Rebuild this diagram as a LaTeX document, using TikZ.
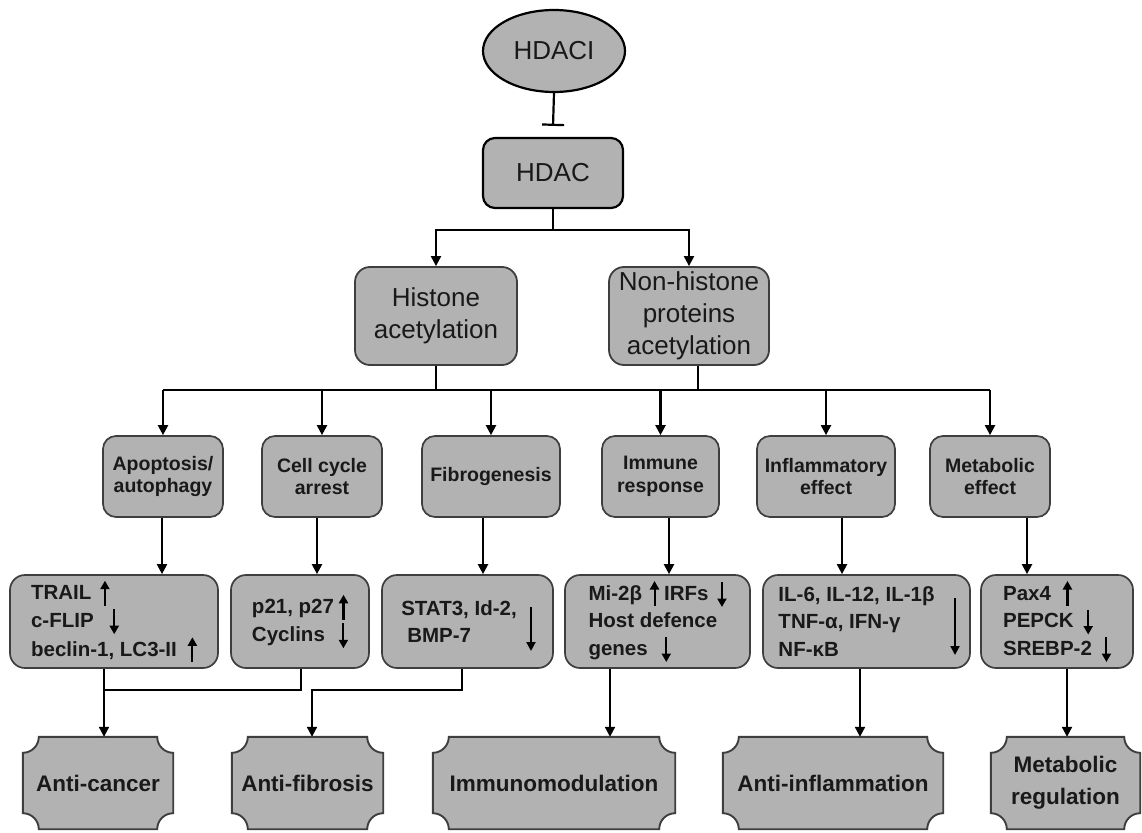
\documentclass[tikz,border=0pt]{standalone}
\usepackage{fontspec}
\setmainfont{Liberation Sans}
\usetikzlibrary{shapes.geometric,arrows.meta,calc,backgrounds}
\definecolor{boxfill}{RGB}{178,178,178}
\definecolor{bdr}{RGB}{62,62,62}
\definecolor{ink}{RGB}{25,25,25}
\newcommand\upa{\tikz[baseline=0pt]{\path (-4.5pt,0pt) (4.5pt,0pt);\draw[black,line width=2.1pt,sharp corners,-{Triangle[length=8.5pt,width=9pt]}] (0pt,-6pt) -- (0pt,19pt);}}
\newcommand\dna{\tikz[baseline=0pt]{\path (-4.5pt,0pt) (4.5pt,0pt);\draw[black,line width=2.1pt,sharp corners,-{Triangle[length=8.5pt,width=9pt]}] (0pt,18pt) -- (0pt,-7pt);}}
\newcommand\scoopbox[1]{%
  \filldraw[scoop] let \p1=(#1.south west), \p2=(#1.north east) in
    (\x1+16pt,\y2) -- (\x2-16pt,\y2) arc[start angle=180,end angle=270,radius=16pt]
    -- (\x2,\y1+16pt) arc[start angle=90,end angle=180,radius=16pt]
    -- (\x1+16pt,\y1) arc[start angle=0,end angle=90,radius=16pt]
    -- (\x1,\y2-16pt) arc[start angle=270,end angle=360,radius=16pt] -- cycle;}
\tikzset{
  wh/.style 2 args={minimum width=#1pt, minimum height=#2pt},
  box/.style={draw=bdr, fill=boxfill, line width=1.7pt, rounded corners=13pt, align=center, inner sep=0pt, text=ink},
  topbox/.style={box, draw=black, line width=2.2pt, rounded corners=12pt, font=\fontsize{26}{32}\selectfont},
  midbox/.style={box, font=\bfseries\fontsize{19.5}{22.5}\selectfont},
  lowbox/.style={box, align=left, rounded corners=15pt, font=\bfseries\fontsize{20.5}{27.5}\selectfont},
  resbox/.style={draw=none, fill=none, align=center, inner sep=0pt, text=ink, font=\bfseries\fontsize{22.5}{32}\selectfont},
  scoop/.style={draw=bdr, fill=boxfill, line width=1.9pt},
  conn/.style={line width=2.1pt, draw=black},
  arr/.style={conn, -{Triangle[length=10pt,width=10pt]}},
  bigarr/.style={black, line width=2.1pt, -{Triangle[length=9pt,width=9pt]}},
}
\begin{document}
\begin{tikzpicture}[x=1pt,y=1pt]
\useasboundingbox (0,0) rectangle (1142,-832);
% top
\node[ellipse, draw=black, fill=boxfill, line width=2.2pt, wh={142}{82}, inner sep=0pt, text=ink, font=\fontsize{26}{32}\selectfont] (hdaci) at (554,-51) {HDACI};
\node[topbox, wh={140}{70}] (hdac) at (553,-173) {HDAC};
\node[topbox, line width=1.8pt, draw=bdr, rounded corners=15pt, wh={162}{98}] (hist) at (436,-316) {Histone\\acetylation};
\node[topbox, line width=1.8pt, draw=bdr, rounded corners=15pt, wh={160}{98}] (nonh) at (689,-316) {Non-histone\\proteins\\acetylation};
% row 2
\node[midbox, wh={120}{81}] (apo) at (163,-476.5) {Apoptosis/\\autophagy};
\node[midbox, wh={120}{81}] (cell) at (322,-476.5) {Cell cycle\\arrest};
\node[midbox, wh={138}{81}] (fib) at (491,-476.5) {Fibrogenesis};
\node[midbox, wh={117}{81}] (imm) at (660.5,-476.5) {Immune\\response};
\node[midbox, wh={138}{81}] (inf) at (826,-476.5) {Inflammatory\\effect};
\node[midbox, wh={120}{81}] (meta) at (990,-476.5) {Metabolic\\effect};
% row 3
\node[lowbox, wh={208}{93}] (trail) at (114,-621.5) {TRAIL\hspace{9pt}\upa\\c-FLIP\hspace{16pt}\dna\\beclin-1, LC3-II\hspace{11pt}\upa};
\node[lowbox, wh={138}{93}] (p21) at (300,-621.5) {p21, p27\hspace{5pt}\upa\\Cyclins\hspace{14pt}\dna};
\node[lowbox, wh={171}{93}] (stat) at (467.5,-621.5) {STAT3, Id-2,\hspace*{17pt}\\\hspace*{6pt}BMP-7};
\node[lowbox, wh={185}{93}] (mi) at (657.5,-621.5) {Mi-2β\hspace{8pt}\upa\hspace{5pt}IRFs\hspace{9pt}\dna\\Host defence\\genes\hspace{14pt}\dna};
\node[lowbox, wh={207}{93}] (il) at (866.5,-621.5) {IL-6, IL-12, IL-1β\hspace*{20pt}\\TNF-α, IFN-γ\\NF-κB};
\node[lowbox, wh={152}{93}] (pax) at (1057,-621.5) {Pax4\hspace{12pt}\upa\\PEPCK\hspace{10pt}\dna\\SREBP-2\hspace{10pt}\dna};
\draw[bigarr] ($(stat.center)+(63.5,14.5)$) -- ($(stat.center)+(63.5,-29.5)$);
\draw[bigarr] ($(il.center)+(88.5,23.5)$) -- ($(il.center)+(88.5,-33.5)$);
% row 4
\node[resbox, wh={150}{92}] (ac) at (98,-783) {Anti-cancer};
\node[resbox, wh={151}{92}] (af) at (307.5,-783) {Anti-fibrosis};
\node[resbox, wh={242}{92}] (im) at (554,-783) {Immunomodulation};
\node[resbox, wh={220}{92}] (ai) at (833,-783) {Anti-inflammation};
\node[resbox, wh={149}{92}] (mr) at (1065.5,-783) {Metabolic\\regulation};
\begin{pgfonlayer}{background}
\scoopbox{ac}\scoopbox{af}\scoopbox{im}\scoopbox{ai}\scoopbox{mr}
\end{pgfonlayer}
% connectors
\draw[line width=2.2pt, -{Bar[width=22pt]}] (hdaci.south) -- ([yshift=11pt]hdac.north);
\coordinate (b1) at (0,-230);
\draw[conn] (hdac.south) -- (hdac.south |- b1);
\draw[arr] (hdac.south |- b1) -| (hist.north);
\draw[arr] (hdac.south |- b1) -| (nonh.north);
\coordinate (h2) at (0,-390);
\coordinate (nx) at (698,0);
\draw[conn] (hist.south) -- (hist.south |- h2);
\draw[conn] (nonh.south -| nx) -- (nx |- h2);
\draw[conn] (apo.north |- h2) -- (meta.north |- h2);
\foreach \n in {apo,cell,fib,imm,inf,meta} \draw[arr] (\n.north |- h2) -- (\n.north);
\foreach \a/\b/\x in {apo/trail/162, cell/p21/317, fib/stat/483, imm/mi/669, inf/il/842, meta/pax/1027} {
  \coordinate (t) at (\x,0);
  \draw[arr] (\a.south -| t) -- (\b.north -| t);
}
\coordinate (j1) at (104,-690);
\coordinate (k1) at (301,-690);
\draw[conn] (p21.south -| k1) -- (k1) -- (j1);
\draw[arr] (trail.south -| j1) -- (ac.north -| j1);
\coordinate (k2) at (462,-690);
\coordinate (j2) at (312,-690);
\draw[arr] (stat.south -| k2) -- (k2) -- (j2) -- (af.north -| j2);
\coordinate (j3) at (610,0);
\draw[arr] (mi.south -| j3) -- (im.north -| j3);
\coordinate (j4) at (860,0);
\draw[arr] (il.south -| j4) -- (ai.north -| j4);
\coordinate (j5) at (1067,0);
\draw[arr] (pax.south -| j5) -- (mr.north -| j5);
\end{tikzpicture}
\end{document}
